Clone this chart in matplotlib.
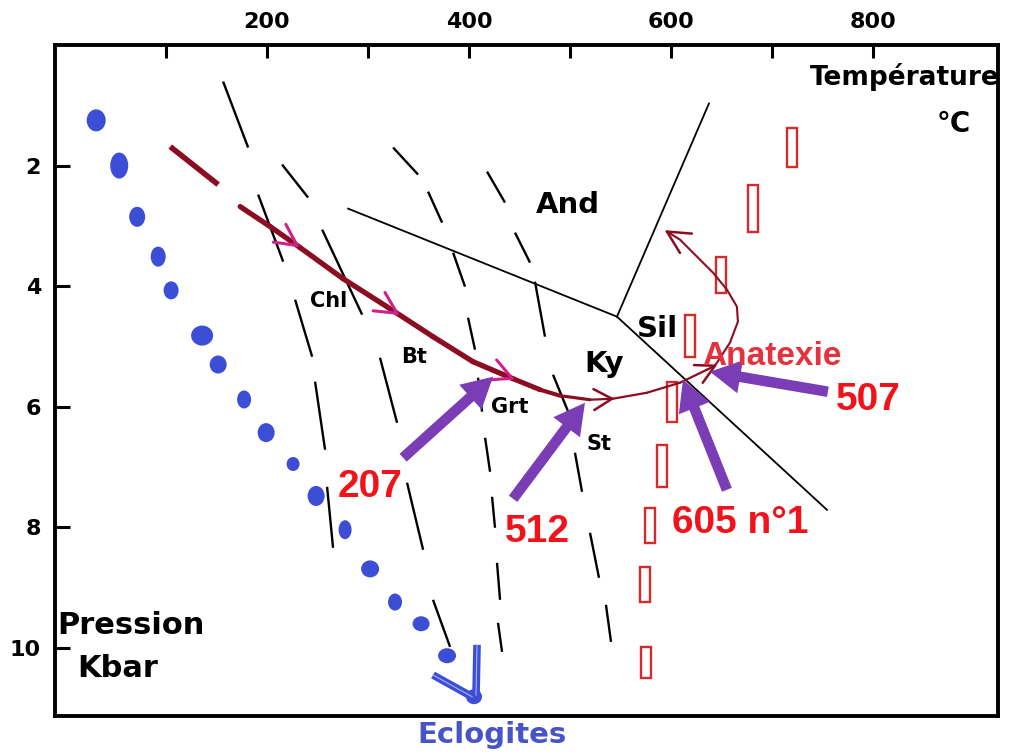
import numpy as np
import matplotlib
matplotlib.use("Agg")
import matplotlib.pyplot as plt
from matplotlib.patches import Ellipse, Rectangle, FancyArrowPatch

# ---------------- data (T in °C, P in kbar) ----------------
# blue "eclogite" gradient dots
eclogite_T = [30.8, 53.6, 71.4, 92.2, 105.0, 135.7, 151.6, 177.3, 199.1, 225.8,
              248.6, 277.3, 302.1, 326.8, 352.6, 378.3, 405.0]
eclogite_P = [1.25, 2.00, 2.85, 3.51, 4.07, 4.82, 5.30, 5.88, 6.43, 6.95,
              7.48, 8.04, 8.69, 9.24, 9.60, 10.13, 10.81]

# eclogite arrow strokes (T0, P0, T1, P1)
eclogite_arrow = [(364.4, 10.45, 403.1, 10.81), (408.0, 9.95, 407.0, 10.78)]

# isograd dashes, one list per isograd: (T0, P0, T1, P1)
isograd_1 = [(156.5, 0.606, 181.3, 1.701), (191.2, 2.481, 216.0, 3.593),
             (227.8, 4.224, 244.7, 5.170), (247.6, 5.585, 257.5, 6.714),
             (259.5, 7.328, 265.4, 8.340)]
isograd_2 = [(214.9, 1.983, 240.7, 2.531), (254.6, 3.062, 294.2, 4.473),
             (311.9, 5.187, 328.8, 6.266), (338.7, 7.261, 354.6, 8.373),
             (364.4, 9.203, 381.3, 9.983)]
isograd_3 = [(324.9, 1.701, 349.6, 2.149), (359.5, 2.432, 373.4, 2.946),
             (384.3, 3.444, 396.1, 4.008), (399.1, 4.523, 406.0, 5.054),
             (409.0, 5.519, 413.0, 6.083), (416.0, 6.515, 420.9, 7.079),
             (422.9, 7.494, 425.8, 8.008), (427.8, 8.589, 430.8, 9.203),
             (428.8, 9.585, 432.8, 10.066)]
isograd_4 = [(417.9, 2.100, 435.7, 2.614), (445.6, 3.112, 460.5, 3.610),
             (465.4, 3.925, 475.3, 4.838), (483.3, 5.469, 499.1, 6.116),
             (505.0, 6.763, 512.0, 7.411), (519.9, 8.091, 528.8, 8.838),
             (535.7, 9.286, 540.7, 9.900)]

# aluminosilicate triple point and boundary end points
triple_point = (546.6, 4.506)
and_ky_end = (280.3, 2.714)
and_sil_end = (637.7, 0.971)
ky_sil_end = (754.6, 7.710)

# melting (anatexis) boxes: T centre, P top, P bottom
melt_T = [720.4, 681.3, 649.6, 618.9, 600.8, 590.9, 579.3, 574.7, 575.2]
melt_P_top = [1.369, 2.315, 3.510, 4.473, 5.585, 6.631, 7.676, 8.656, 9.983]
melt_P_bot = [2.017, 3.095, 4.108, 5.170, 6.249, 7.328, 8.257, 9.237, 10.498]

# P-T path
path_start = (104.1, 1.685, 151.6, 2.315)
path_T = [173.4, 203.1, 232.8, 275.3, 324.9, 364.4, 404.0, 443.6, 470.4, 490.2,
          519.9, 542.7, 576.3, 609.0, 635.7, 643.7]
path_P = [2.680, 3.012, 3.361, 3.876, 4.407, 4.838, 5.253, 5.535, 5.718, 5.817,
          5.884, 5.867, 5.768, 5.602, 5.386, 5.320]
path_arrow_T = [229.8, 328.8, 442.7]        # magenta arrowheads
path_arrow2_T = [541.7]                     # dark red arrowhead
loop_T = [643.7, 658.5, 666.4, 665.4, 655.5, 641.7, 625.8, 609.0, 596.1]
loop_P = [5.320, 4.938, 4.589, 4.340, 4.058, 3.776, 3.510, 3.228, 3.095]

# sample arrows: label, tail (T, P), tip (T, P), label position
sample_labels = ["207", "512", "605 n°1", "507"]
sample_tail = [(334.8, 6.846), (443.7, 7.527), (655.5, 7.378), (755.5, 5.751)]
sample_tip = [(423.9, 5.502), (514.9, 5.934), (612.0, 5.552), (638.7, 5.419)]
sample_label_pos = [(302.1, 7.49), (467.8, 8.24), (668.9, 8.09), (795.6, 6.05)]

mineral_labels = ["And", "Ky", "Sil", "Chl", "Bt", "Grt", "St"]
mineral_pos = [(497.6, 2.78), (533.8, 5.42), (587.2, 4.84), (261.5, 4.34),
               (345.6, 5.27), (440.7, 6.10), (529.3, 6.71)]

x_major = [200, 400, 600, 800]
x_minor = [100, 300, 500, 700]
y_ticks = [2, 4, 6, 8, 10]

# ---------------- styles ----------------
BLUE = "#3c4dd6"
PATH_RED = "#8c0d22"
MAGENTA = "#d0208c"
PURPLE = "#7b3db5"
NUM_RED = "#f0141a"
BOX_RED = "#d42a2a"
ANAT_RED = "#e5323f"
dot_w_px = [19, 18, 16, 15, 15, 22, 17, 14, 17, 13, 17, 13, 18, 14, 17, 18, 16]
dot_h_px = [22, 26, 20, 20, 18, 20, 18, 18, 19, 14, 20, 19, 17, 17, 15, 15, 15]

fig = plt.figure(figsize=(10.24, 7.52), dpi=100)
fig.patch.set_facecolor("white")
ax = fig.add_axes([55 / 1024, 1 - 716 / 752, (998 - 55) / 1024, (716 - 45) / 752])
ax.set_xlim(-10, 924)
ax.set_ylim(11.13, 0)

PX_T = 943 / 934.0   # pixels per °C
PX_P = 671 / 11.13   # pixels per kbar

# spines & ticks
for s in ax.spines.values():
    s.set_linewidth(2.8)
ax.xaxis.set_ticks_position("top")
ax.set_xticks(x_major)
ax.set_xticks(x_minor, minor=True)
ax.set_yticks(y_ticks)
ax.tick_params(axis="x", which="both", direction="in", length=9.5, width=2.2,
               top=True, bottom=False, labeltop=True, labelbottom=False, pad=9)
ax.tick_params(axis="y", which="both", direction="in", length=11, width=2.2,
               left=True, right=False, pad=10)
ax.set_xticklabels([str(v) for v in x_major], fontsize=16, fontweight="bold")
ax.set_yticklabels([str(v) for v in y_ticks], fontsize=16, fontweight="bold")

# isograds
for iso in (isograd_1, isograd_2, isograd_3, isograd_4):
    for t0, p0, t1, p1 in iso:
        ax.plot([t0, t1], [p0, p1], color="black", lw=1.7, solid_capstyle="butt", zorder=2)

# aluminosilicate lines
for end in (and_ky_end, and_sil_end, ky_sil_end):
    ax.plot([triple_point[0], end[0]], [triple_point[1], end[1]], color="black", lw=1.3, zorder=2)

# eclogite dots
for t, p, w, h in zip(eclogite_T, eclogite_P, dot_w_px, dot_h_px):
    ax.add_patch(Ellipse((t, p), w / PX_T, h / PX_P, color=BLUE, lw=0, zorder=3))
for t0, p0, t1, p1 in eclogite_arrow:
    ax.plot([t0, t1], [p0, p1], color=BLUE, lw=5.5, solid_capstyle="butt", zorder=3)
    ax.plot([t0, t1], [p0, p1], color="#aab4f4", lw=0.8, zorder=3)

# melting boxes
for t, p0, p1 in zip(melt_T, melt_P_top, melt_P_bot):
    ax.add_patch(Rectangle((t - 5.0, p0), 10.0, p1 - p0, fill=False,
                           edgecolor=BOX_RED, lw=1.7, zorder=4))

# P-T path
ax.plot([path_start[0], path_start[2]], [path_start[1], path_start[3]],
        color=PATH_RED, lw=4, solid_capstyle="butt", zorder=5)
for i in range(len(path_T) - 1):
    tm = 0.5 * (path_T[i] + path_T[i + 1])
    lw = float(np.interp(tm, [450, 530], [3.8, 1.6]))
    ax.plot(path_T[i:i + 2], path_P[i:i + 2], color=PATH_RED, lw=lw,
            solid_capstyle="round", zorder=5)
ax.plot(loop_T, loop_P, color=PATH_RED, lw=1.5, zorder=5)


def chevron(tip, prev, color, length_px, half_angle, lw):
    d_tip = ax.transData.transform(tip)
    d_prev = ax.transData.transform(prev)
    v = d_tip - d_prev
    v = v / np.hypot(*v)
    inv = ax.transData.inverted()
    for sgn in (1, -1):
        a = np.deg2rad(sgn * half_angle)
        r = np.array([-v[0] * np.cos(a) + v[1] * np.sin(a),
                      -v[0] * np.sin(a) - v[1] * np.cos(a)])
        wing = inv.transform(d_tip + length_px * r)
        ax.plot([tip[0], wing[0]], [tip[1], wing[1]], color=color, lw=lw,
                solid_capstyle="round", zorder=6)


for t in path_arrow_T:
    p = np.interp(t, path_T, path_P)
    pp = np.interp(t - 8, path_T, path_P)
    chevron((t, p), (t - 8, pp), MAGENTA, 24, 27, 2.2)
for t in path_arrow2_T:
    p = np.interp(t, path_T, path_P)
    pp = np.interp(t - 8, path_T, path_P)
    chevron((t, p), (t - 8, pp), PATH_RED, 21, 30, 1.8)
chevron((path_T[-1], path_P[-1]), (path_T[-2], path_P[-2]), PATH_RED, 21, 28, 1.8)
chevron((loop_T[-1], loop_P[-1]), (loop_T[-2], loop_P[-2]), PATH_RED, 25, 27, 1.8)

# sample arrows
for tail, tip in zip(sample_tail, sample_tip):
    ax.add_patch(FancyArrowPatch(tail, tip,
                                 arrowstyle="simple,head_length=1.1,head_width=1.2,tail_width=0.38",
                                 mutation_scale=20, color=PURPLE, lw=0,
                                 shrinkA=0, shrinkB=0, zorder=7))

# texts
for lab, (t, p) in zip(sample_labels, sample_label_pos):
    ax.text(t, p, lab, color=NUM_RED, fontsize=28, fontweight="bold",
            family="Liberation Sans", ha="center", va="baseline", zorder=8)
ax.text(699.6, 5.303, "Anatexie", color=ANAT_RED, fontsize=24, fontweight="bold",
        family="Liberation Sans", ha="center", va="baseline", zorder=8)

for lab, (t, p) in zip(mineral_labels, mineral_pos):
    size = 21 if lab in ("And", "Ky", "Sil") else 15
    ax.text(t, p, lab, color="black", fontsize=size, fontweight="bold",
            ha="center", va="baseline", zorder=8)

ax.text(831.8, 0.656, "Température", fontsize=19, fontweight="bold",
        ha="center", va="baseline", zorder=8)
ax.text(880.3, 1.436, "°C", fontsize=20, fontweight="bold",
        ha="center", va="baseline", zorder=8)
ax.text(-7.8, 9.77, "Pression", fontsize=22, fontweight="bold",
        ha="left", va="baseline", zorder=8)
ax.text(12.0, 10.48, "Kbar", fontsize=22, fontweight="bold",
        ha="left", va="baseline", zorder=8)
ax.text(422.4, 11.577, "Eclogites", fontsize=21, fontweight="bold", color="#4654c8",
        ha="center", va="baseline", zorder=8, clip_on=False)

fig.savefig("out.png", dpi=100, facecolor="white")
